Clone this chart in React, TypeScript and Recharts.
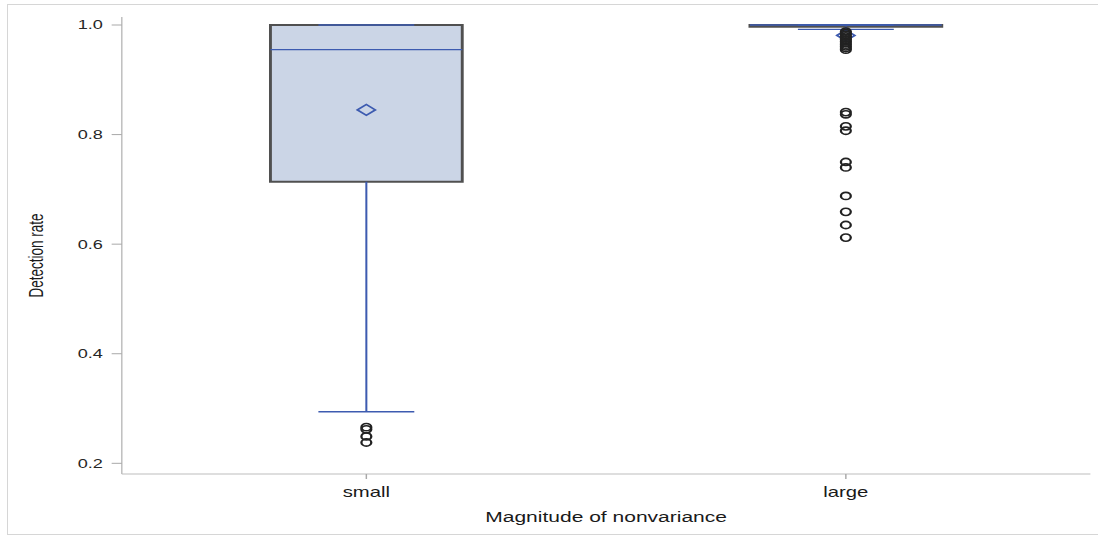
import React from 'react';
import {
  ComposedChart,
  XAxis,
  YAxis,
  Scatter,
  ReferenceArea,
  ReferenceLine,
} from 'recharts';

// ---- data ----
const categories = ['small', 'large'];
const positions = [0.5, 1.5];
const q1 = [0.714, 0.997];
const median = [0.955, 1.0];
const q3 = [1.0, 1.0];
const whiskerLow = [0.294, 0.992];
const whiskerHigh = [1.0, 1.0];
const means = [0.845, 0.981];
const outliersSmall = [0.266, 0.262, 0.249, 0.238];
const outliersLarge = [
  0.988, 0.985, 0.982, 0.979, 0.976, 0.973, 0.97, 0.967, 0.964, 0.961, 0.958, 0.955,
  0.841, 0.837, 0.815, 0.807, 0.75, 0.74, 0.688, 0.659, 0.635, 0.612,
];
const yTicks = [0.2, 0.4, 0.6, 0.8, 1.0];

const meanData = positions.map((x, i) => ({ x, y: means[i] }));
const outlierData = [
  ...outliersSmall.map((y) => ({ x: positions[0], y })),
  ...outliersLarge.map((y) => ({ x: positions[1], y })),
];

// ---- layout / style ----
const STRETCH = 1.45;
const CHART_W = Math.round(1098 / STRETCH);
const CHART_H = 538;
const X_DOMAIN: [number, number] = [-0.01, 2.01];
const Y_DOMAIN: [number, number] = [0.1805, 1.0146];
const BOX_HW = 0.2;
const CAP_HW = 0.1;
const FONT = "'Liberation Sans', Arial, Helvetica, sans-serif";
const BOX_FILL = '#cbd5e6';
const BOX_EDGE = '#505050';
const BLUE = '#3d5bb0';
const FRAME = '#bdbdbd';

const Diamond = (props: any) => {
  const { cx, cy } = props;
  if (cx == null || cy == null) return null;
  const hw = 6.2;
  const hh = 5.4;
  return (
    <polygon
      points={`${cx - hw},${cy} ${cx},${cy - hh} ${cx + hw},${cy} ${cx},${cy + hh}`}
      fill="none"
      stroke={BLUE}
      strokeWidth={1.5}
    />
  );
};

const Ring = (props: any) => {
  const { cx, cy } = props;
  if (cx == null || cy == null) return null;
  return <ellipse cx={cx} cy={cy} rx={3.4} ry={3.6} fill="none" stroke="#222" strokeWidth={1.6} />;
};

const YLabel = (props: any) => {
  const vb = props.viewBox || {};
  const x = vb.x + 25;
  const y = vb.y + vb.height / 2 + 10;
  return (
    <text
      x={x}
      y={y}
      transform={`rotate(-90, ${x}, ${y})`}
      textAnchor="middle"
      dominantBaseline="central"
      fontFamily={FONT}
      fontSize={13.5}
      fill="#1a1a1a"
    >
      Detection rate
    </text>
  );
};

const XLabel = (props: any) => {
  const vb = props.viewBox || {};
  const x = vb.x + vb.width / 2;
  const y = vb.y + 48;
  return (
    <text x={x} y={y} textAnchor="middle" fontFamily={FONT} fontSize={14.5} fill="#1a1a1a">
      Magnitude of nonvariance
    </text>
  );
};

export default function App() {
  return (
    <div style={{ position: 'absolute', left: 0, top: 0, width: 1098, height: 538, overflow: 'hidden', background: '#fff' }}>
      <div
        style={{
          position: 'absolute',
          left: 7,
          top: 4,
          width: 1200,
          height: 531,
          border: '1px solid #d6d6d6',
          boxSizing: 'border-box',
        }}
      />
      <div
        style={{
          position: 'absolute',
          left: 0,
          top: 0,
          width: CHART_W,
          height: CHART_H,
          transform: `scaleX(${STRETCH})`,
          transformOrigin: '0 0',
        }}
      >
        <ComposedChart width={CHART_W} height={CHART_H} margin={{ top: 17, right: 5, bottom: 24, left: 0 }}>
          <XAxis
            dataKey="x"
            type="number"
            domain={X_DOMAIN}
            ticks={positions}
            tickFormatter={(v: number) => categories[positions.indexOf(v)] ?? ''}
            allowDataOverflow
            height={40}
            tickSize={5}
            tickMargin={8}
            axisLine={{ stroke: FRAME }}
            tickLine={{ stroke: '#a8a8a8' }}
            tick={{ fontFamily: FONT, fontSize: 14, fill: '#1a1a1a' }}
            label={<XLabel />}
          />
          <YAxis
            dataKey="y"
            type="number"
            domain={Y_DOMAIN}
            ticks={yTicks}
            allowDataOverflow
            tickFormatter={(v: number) => v.toFixed(1)}
            width={84}
            tickSize={7}
            tickMargin={6}
            axisLine={{ stroke: FRAME }}
            tickLine={{ stroke: '#a8a8a8' }}
            tick={{ fontFamily: FONT, fontSize: 12.5, fill: '#262626' }}
            label={<YLabel />}
          />
          <XAxis xAxisId="top" orientation="top" type="number" domain={X_DOMAIN} height={0} tick={false} tickLine={false} axisLine={{ stroke: FRAME }} />
          <YAxis yAxisId="right" orientation="right" type="number" domain={Y_DOMAIN} width={0} tick={false} tickLine={false} axisLine={{ stroke: FRAME }} />

          {positions.map((c, i) => (
            <ReferenceArea
              key={`box-${i}`}
              x1={c - BOX_HW}
              x2={c + BOX_HW}
              y1={q1[i]}
              y2={q3[i]}
              fill={BOX_FILL}
              fillOpacity={1}
              stroke={BOX_EDGE}
              strokeWidth={2}
              ifOverflow="visible"
            />
          ))}
          {positions.map((c, i) => (
            <ReferenceLine
              key={`lw-${i}`}
              segment={[{ x: c, y: q1[i] }, { x: c, y: whiskerLow[i] }]}
              stroke={BLUE}
              strokeWidth={1.4}
              ifOverflow="visible"
            />
          ))}
          {positions.map((c, i) => (
            <ReferenceLine
              key={`uw-${i}`}
              segment={[{ x: c, y: q3[i] }, { x: c, y: whiskerHigh[i] }]}
              stroke={BLUE}
              strokeWidth={1.4}
              ifOverflow="visible"
            />
          ))}
          {positions.map((c, i) => (
            <ReferenceLine
              key={`lc-${i}`}
              segment={[{ x: c - CAP_HW, y: whiskerLow[i] }, { x: c + CAP_HW, y: whiskerLow[i] }]}
              stroke={BLUE}
              strokeWidth={1.4}
              ifOverflow="visible"
            />
          ))}
          {positions.map((c, i) => (
            <ReferenceLine
              key={`uc-${i}`}
              segment={[{ x: c - CAP_HW, y: whiskerHigh[i] }, { x: c + CAP_HW, y: whiskerHigh[i] }]}
              stroke={BLUE}
              strokeWidth={1.4}
              ifOverflow="visible"
            />
          ))}
          {positions.map((c, i) => (
            <ReferenceLine
              key={`med-${i}`}
              segment={[{ x: c - BOX_HW, y: median[i] }, { x: c + BOX_HW, y: median[i] }]}
              stroke={BLUE}
              strokeWidth={1.4}
              ifOverflow="visible"
            />
          ))}

          <Scatter data={meanData} dataKey="y" shape={<Diamond />} isAnimationActive={false} />
          <Scatter data={outlierData} dataKey="y" shape={<Ring />} isAnimationActive={false} />
        </ComposedChart>
      </div>
    </div>
  );
}
